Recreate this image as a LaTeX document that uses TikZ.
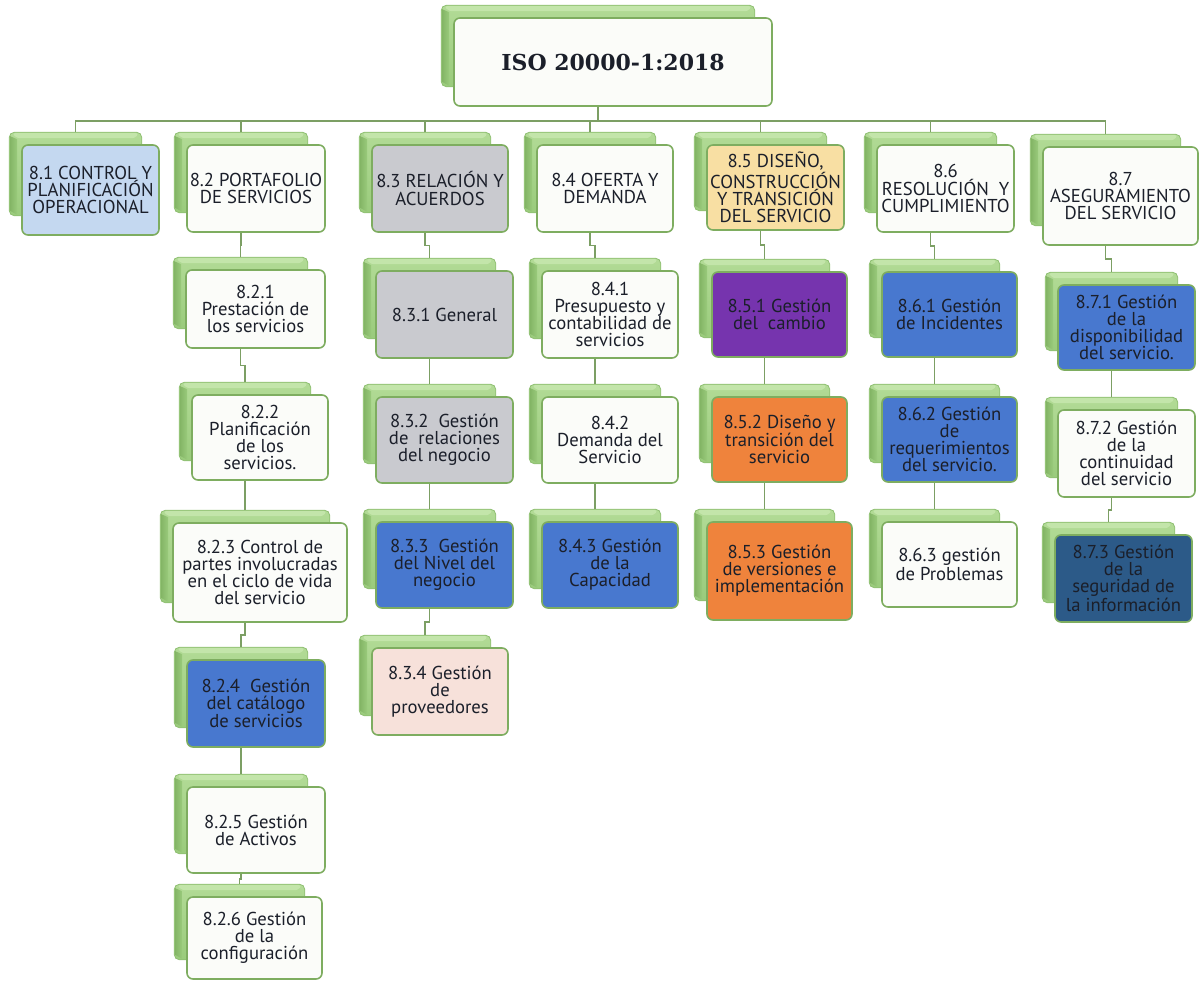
\documentclass[tikz,border=0pt]{standalone}
\usepackage{fontspec}
\setmainfont{PT Sans}
\newfontfamily\titlefont{DejaVu Serif}
\usetikzlibrary{calc,backgrounds}

\definecolor{boxline}{HTML}{7EAD60}
\definecolor{connline}{HTML}{7C9F64}
\definecolor{shtop}{HTML}{B2DB96}
\definecolor{shbot}{HTML}{9ACB7C}
\definecolor{shface}{HTML}{C3E5AA}
\definecolor{shdark}{HTML}{84B666}
\definecolor{shline}{HTML}{8FBF72}
\definecolor{txt}{HTML}{1B1F2A}
\definecolor{cwhite}{HTML}{FBFCF9}
\definecolor{clblue}{HTML}{C4D8F0}
\definecolor{cgrey}{HTML}{C9CACF}
\definecolor{cyellow}{HTML}{F8DFA3}
\definecolor{cblue}{HTML}{4878CF}
\definecolor{cpurple}{HTML}{7634AE}
\definecolor{corange}{HTML}{EF833C}
\definecolor{cpink}{HTML}{F7E1DA}
\definecolor{cdark}{HTML}{2C5A88}

\tikzset{
  frontbox/.style={draw=boxline, line width=1.2pt, rounded corners=4.5pt,
    align=center, inner sep=1pt, text=txt,
    font=\fontsize{14}{12.8}\selectfont},
  conn/.style={draw=connline, line width=1.1pt},
}

% card: name, left, top, right, bottom, fill, text  (pixel units, y downwards)
\newcommand{\card}[7]{%
  \pgfmathsetmacro{\cw}{(#4-#2)*0.75}%
  \pgfmathsetmacro{\ch}{(#5-#3)*0.75}%
  \pgfmathsetmacro{\cx}{(#2+#4)/2}%
  \pgfmathsetmacro{\cy}{(#3+#5)/2}%
  \node[frontbox, fill=#6, minimum width=\cw pt, minimum height=\ch pt] (#1) at (\cx,\cy) {#7};
  \begin{pgfonlayer}{background}
    \path ($(#1.north west)+(-12,-12)$) coordinate (#1-snw)
          ($(#1.south east)+(-18,-20)$) coordinate (#1-sse);
    % green block behind the card
    \shade[top color=shtop, bottom color=shbot, draw=shline, line width=0.6pt,
           rounded corners=4pt] (#1-snw) rectangle (#1-sse);
    % bevelled top face
    \fill[shface, rounded corners=2pt] ($(#1-snw)+(3,1)$) -- ($(#1-sse |- #1-snw)+(-3,1)$)
      -- ($(#1-sse |- #1-snw)+(-7,6)$) -- ($(#1-snw)+(8,6)$) -- cycle;
    % bevelled left face
    \shade[left color=shdark, right color=shbot] ($(#1-snw)+(1,4)$) -- ($(#1-snw)+(8,7)$)
      -- ($(#1-snw |- #1-sse)+(8,-1)$) -- ($(#1-snw |- #1-sse)+(1,-5)$) -- cycle;
  \end{pgfonlayer}%
}

% elbow connector from the bottom of one card to the top of the next one
\newcommand{\joinbox}[2]{%
  \path ($(#1.south)+(-15,0)$) coordinate (ja) ($(#2.north)+(-15,-12)$) coordinate (jb);
  \draw[conn] (ja) |- ($(ja)!0.5!(jb)$) -| (jb);%
}

\begin{document}
\begin{tikzpicture}[x=0.75pt,y=-0.75pt]
\useasboundingbox (0,0) rectangle (1200,983);

% root
\card{iso}{454}{18}{772}{106}{cwhite}{\titlefont\bfseries\fontsize{16.5}{18}\selectfont ISO 20000-1:2018}

% first level
\card{c81}{22}{145}{159}{235}{clblue}{8.1 CONTROL Y\\PLANIFICACIÓN\\OPERACIONAL}
\card{c82}{187}{145}{325}{232}{cwhite}{8.2 PORTAFOLIO\\DE SERVICIOS}
\card{c83}{372}{145}{508}{232}{cgrey}{8.3 RELACIÓN Y\\ACUERDOS}
\card{c84}{537}{145}{673}{232}{cwhite}{8.4 OFERTA Y\\DEMANDA}
\card{c85}{707}{145}{844}{230}{cyellow}{8.5 DISEÑO,\\CONSTRUCCIÓN\\Y TRANSICIÓN\\DEL SERVICIO}
\card{c86}{877}{145}{1014}{232}{cwhite}{8.6\\RESOLUCIÓN~ Y\\CUMPLIMIENTO}
\card{c87}{1043}{147}{1198}{245}{cwhite}{8.7\\ASEGURAMIENTO\\DEL SERVICIO}

% 8.2 column
\card{c821}{186}{270}{325}{348}{cwhite}{8.2.1\\Prestación de\\los servicios}
\card{c822}{192}{395}{328}{480}{cwhite}{8.2.2\\Planificación\\de los\\servicios.}
\card{c823}{173}{523}{347}{622}{cwhite}{8.2.3 Control de\\partes involucradas\\en el ciclo de vida\\del servicio}
\card{c824}{187}{660}{325}{747}{cblue}{8.2.4~ Gestión\\del catálogo\\de servicios}
\card{c825}{187}{787}{325}{873}{cwhite}{8.2.5 Gestión\\de Activos}
\card{c826}{187}{897}{322}{979}{cwhite}{8.2.6 Gestión\\de la\\configuración}

% 8.3 column
\card{c831}{376}{271}{513}{358}{cgrey}{8.3.1 General}
\card{c832}{376}{397}{513}{483}{cgrey}{8.3.2~ Gestión\\de~ relaciones\\del negocio}
\card{c833}{376}{522}{513}{608}{cblue}{8.3.3~ Gestión\\del Nivel del\\negocio}
\card{c834}{372}{648}{508}{735}{cpink}{8.3.4 Gestión\\de\\proveedores}

% 8.4 column
\card{c841}{542}{271}{678}{358}{cwhite}{8.4.1\\Presupuesto y\\contabilidad de\\servicios}
\card{c842}{542}{397}{678}{483}{cwhite}{8.4.2\\Demanda del\\Servicio}
\card{c843}{542}{522}{678}{608}{cblue}{8.4.3 Gestión\\de la\\Capacidad}

% 8.5 column
\card{c851}{712}{272}{847}{357}{cpurple}{8.5.1 Gestión\\del~ cambio}
\card{c852}{712}{397}{847}{482}{corange}{8.5.2 Diseño y\\transición del\\servicio}
\card{c853}{707}{522}{852}{620}{corange}{8.5.3 Gestión\\de versiones e\\implementación}

% 8.6 column
\card{c861}{882}{272}{1017}{357}{cblue}{8.6.1 Gestión\\de Incidentes}
\card{c862}{882}{397}{1017}{482}{cblue}{8.6.2 Gestión\\de\\requerimientos\\del servicio.}
\card{c863}{882}{522}{1017}{607}{cwhite}{8.6.3 gestión\\de Problemas}

% 8.7 column
\card{c871}{1058}{285}{1195}{370}{cblue}{8.7.1 Gestión\\de la\\disponibilidad\\del servicio.}
\card{c872}{1058}{410}{1195}{497}{cwhite}{8.7.2 Gestión\\de la\\continuidad\\del servicio}
\card{c873}{1055}{535}{1192}{622}{cdark}{8.7.3 Gestión\\de la\\seguridad de\\la información}

% root to first level through a horizontal bus
\coordinate (bus) at ($(iso.south)+(-15,14)$);
\draw[conn] ($(iso.south)+(-15,0)$) -- (bus);
\foreach \k in {c81,c82,c83,c84,c85,c86,c87}
  \draw[conn] ($(\k.north)+(-15,-12)$) |- (bus);

% vertical chains
\joinbox{c82}{c821}\joinbox{c821}{c822}\joinbox{c822}{c823}
\joinbox{c823}{c824}\joinbox{c824}{c825}\joinbox{c825}{c826}
\joinbox{c83}{c831}\joinbox{c831}{c832}\joinbox{c832}{c833}\joinbox{c833}{c834}
\joinbox{c84}{c841}\joinbox{c841}{c842}\joinbox{c842}{c843}
\joinbox{c85}{c851}\joinbox{c851}{c852}\joinbox{c852}{c853}
\joinbox{c86}{c861}\joinbox{c861}{c862}\joinbox{c862}{c863}
\joinbox{c87}{c871}\joinbox{c871}{c872}\joinbox{c872}{c873}
\end{tikzpicture}
\end{document}
